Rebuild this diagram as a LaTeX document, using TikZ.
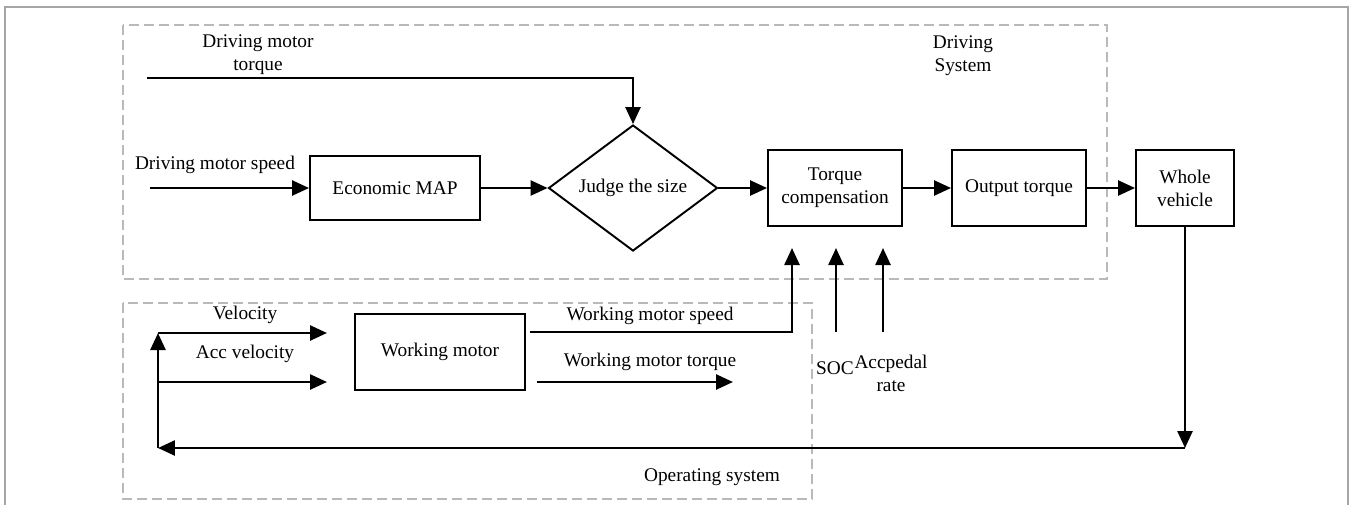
\documentclass[tikz,border=0pt]{standalone}
\usepackage{fontspec}
\setmainfont{Liberation Serif}
\usetikzlibrary{arrows.meta,shapes.geometric,positioning,calc}
\tikzset{
  caja/.style={draw,line width=1.1pt,align=center,inner sep=2pt},
  rombo/.style={diamond,draw,line width=1.1pt,inner sep=0pt,minimum width=3.38cm,minimum height=2.52cm},
  flecha/.style={line width=1.45pt,-{Triangle[length=0.34cm,width=0.3cm]}},
  zona/.style={gray!55,line width=0.7pt,dash pattern=on 0.2cm off 0.1cm},
  etq/.style={align=center,inner sep=1pt}
}

\begin{document}
\begin{tikzpicture}[x=0.02cm,y=-0.02cm,font=\fontsize{11}{13}\selectfont]
\useasboundingbox (0,0) rectangle (1352,505);
% marco exterior
\draw[gray!70,line width=0.6pt] (5,505)--(5,7)--(1348,7)--(1348,505);
% zonas
\draw[zona] (123,25) rectangle (1107,279);
\draw[zona] (123,303) rectangle (812,499);
\node[etq] (dsys) at (963,56) {Driving\\System};
\node[etq] (osys) at (712,477) {Operating system};

% bloques del sistema de traccion
\node[caja,minimum width=3.4cm,minimum height=1.28cm] (map) at (395,188) {Economic MAP};
\node[rombo] (juez) at (633,188) {Judge the size};
\node[caja,minimum width=2.68cm,minimum height=1.52cm] (comp) at (835,188) {Torque\\compensation};
\node[caja,minimum width=2.68cm,minimum height=1.52cm] (sal) at (1019,188) {Output torque};
\node[caja,minimum width=1.96cm,minimum height=1.52cm] (veh) at (1185,188) {Whole\\vehicle};
\node[caja,minimum width=3.4cm,minimum height=1.52cm] (wm) at (440,352) {Working motor};

% extremos libres
\coordinate (dmt) at (147,78);
\coordinate (dms) at (150,188);
\coordinate (esq1) at (1185,448);
\coordinate (esq2) at (158,448);
\coordinate (esq3) at (158,333);
\coordinate (acc0) at (158,382);
\coordinate (vel1) at (327,333);
\coordinate (acc1) at (327,382);
\coordinate (wms0) at (530,332);
\coordinate (wms1) at (792,248);
\coordinate (wmt0) at (537,382);
\coordinate (wmt1) at (733,382);
\coordinate (soc0) at (836,332);
\coordinate (soc1) at (836,248);
\coordinate (ped0) at (883,332);
\coordinate (ped1) at (883,248);

% conexiones
\draw[flecha] (dmt) -| (juez.north);
\draw[flecha] (dms) -- (map.west);
\draw[flecha] (map.east) -- (juez.west);
\draw[flecha] (juez.east) -- (comp.west);
\draw[flecha] (comp.east) -- (sal.west);
\draw[flecha] (sal.east) -- (veh.west);
\draw[flecha] (veh.south) -- (esq1);
\draw[flecha] (esq1) -- (esq2);
\draw[flecha] (esq2) -- (esq3);
\draw[flecha] (esq3) -- (vel1);
\draw[flecha] (acc0) -- (acc1);
\draw[flecha] (wms0) -| (wms1);
\draw[flecha] (wmt0) -- (wmt1);
\draw[flecha] (soc0) -- (soc1);
\draw[flecha] (ped0) -- (ped1);

% etiquetas
\node[etq] (ldmt) at (258,55) {Driving motor\\torque};
\node[etq] (ldms) at (215,165) {Driving motor speed};
\node[etq] (lvel) at (245,315) {Velocity};
\node[etq] (lacc) at (245,354) {Acc velocity};
\node[etq] (lwms) at (650,316) {Working motor speed};
\node[etq] (lwmt) at (650,362) {Working motor torque};
\node[etq] (lsoc) at (835,368) {SOC};
\node[etq] (lped) at (891,373) {Accpedal\\rate};
\end{tikzpicture}
\end{document}
